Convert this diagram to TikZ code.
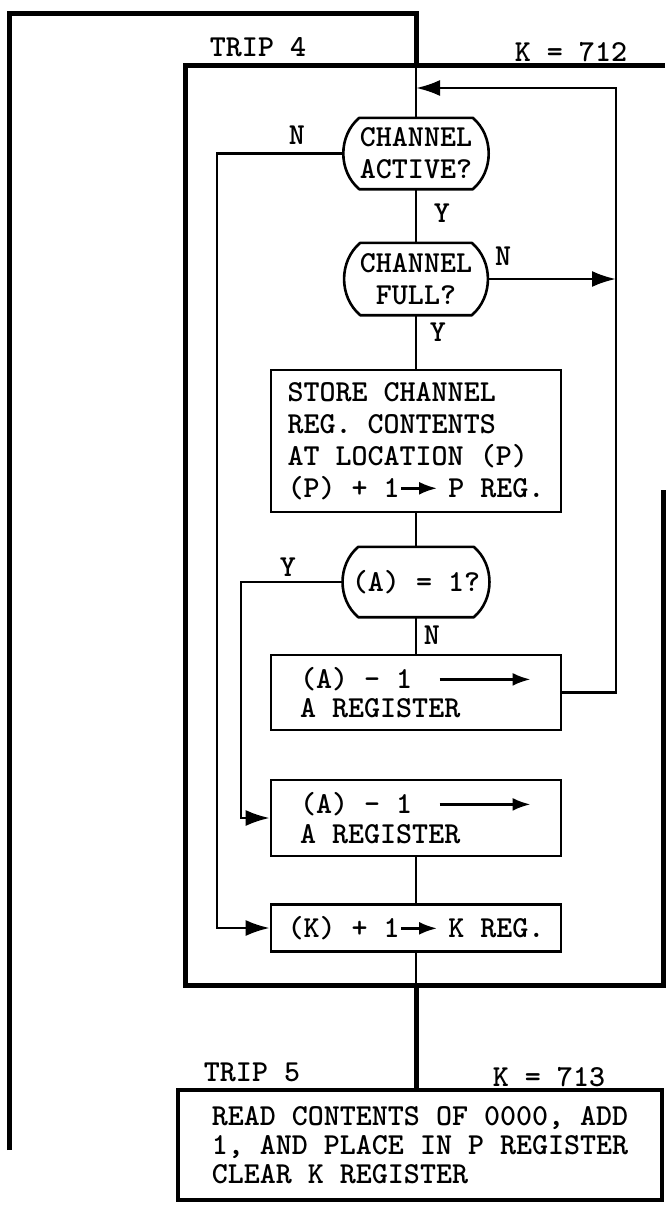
\documentclass[tikz,border=0pt]{standalone}
\usepackage{tikz}
\usetikzlibrary{arrows.meta,positioning,calc}
\tikzset{
  flow/.style={line width=2.6pt},
  frame/.style={line width=5pt},
  arr/.style={-{Latex[length=24pt,width=16pt]}},
  stepbox/.style={draw,line width=2.6pt,align=left,inner sep=0pt,minimum width=290pt},
  decide/.style={align=center,inner sep=0pt},
  lbl/.style={inner sep=0pt}
}
\newcommand\tarr[1]{\tikz[baseline=-9pt]\draw[line width=2.6pt,-{Latex[length=18pt,width=13pt]}] (0,0) -- (#1pt,0);}

\begin{document}
\begin{tikzpicture}[x=1pt,y=-1pt,every node/.style={font=\ttfamily\bfseries\fontsize{30.5}{32}\selectfont}]
  \useasboundingbox (0,0) rectangle (665,1207);
  % frames
  \draw[frame] (9,1150) -- (9,14) -- (416,14) -- (416,66);
  \draw[frame] (665,66) -- (185,66) -- (185,985) -- (663,985) -- (663,490);
  \node[lbl] (trip4) at (258,47) {TRIP 4};
  \node[lbl] (k712) at (571,52) {K = 712};
  \coordinate (in4) at (416,66);
  \coordinate (join) at (416,88);
  \coordinate (fb) at (616,88);
  \coordinate (nl) at (217,0);
  \coordinate (yl) at (241,0);
  \coordinate (out4) at (416,985);

  % steps
  \node[decide,minimum width=145pt,minimum height=71pt] (active) at (416,153.5) {CHANNEL\\ACTIVE?};
  \node[decide,minimum width=143pt,minimum height=72pt] (full) at (416,279) {CHANNEL\\FULL?};
  \node[stepbox,minimum height=142pt] (store) at (416,441)
    {STORE CHANNEL\\REG. CONTENTS\\AT LOCATION (P)\\(P) + 1\tarr{36}\hspace{10pt}P REG.};
  \node[decide,minimum width=147pt,minimum height=70pt] (aone) at (416,582) {(A) = 1?};
  \node[stepbox,minimum height=75pt,font=\ttfamily\bfseries\fontsize{30.5}{29}\selectfont] (asub) at (416,692.5)
    {(A) - 1\hspace{26pt}\tarr{91}\\A REGISTER};
  \node[stepbox,minimum height=76pt,font=\ttfamily\bfseries\fontsize{30.5}{30}\selectfont] (asubb) at (416,818)
    {(A) - 1\hspace{26pt}\tarr{91}\\A REGISTER};
  \node[stepbox,minimum height=47pt] (kreg) at (416,928)
    {(K) + 1\tarr{36}\hspace{10pt}K REG.};

  \foreach \d in {active,full,aone}
    \draw[flow] ([xshift=16pt]\d.north west) -- ([xshift=-16pt]\d.north east)
      to[bend left=50] ([xshift=-16pt]\d.south east) -- ([xshift=16pt]\d.south west)
      to[bend left=50] cycle;

  % trip 5
  \node[lbl] (trip5) at (252,1072) {TRIP 5};
  \node[lbl] (k713) at (549,1077) {K = 713};
  \node[draw,line width=4pt,align=left,inner sep=0pt,minimum width=484pt,minimum height=110pt,
    font=\ttfamily\bfseries\fontsize{30.5}{29}\selectfont] (read) at (420,1145)
    {READ CONTENTS OF 0000, ADD\\1, AND PLACE IN P REGISTER\\CLEAR K REGISTER};

  % connectors
  \draw[flow] (in4) -- (active.north);
  \draw[flow] (active.south) -- (full.north);
  \draw[flow] (full.south) -- (store.north);
  \draw[flow] (store.south) -- (aone.north);
  \draw[flow] (aone.south) -- (asub.north);
  \draw[flow] (asubb.south) -- (kreg.north);
  \draw[flow] (kreg.south) -- (out4);
  \draw[frame] (out4) -- (read.north -| out4);
  \draw[flow,arr] (asub.east) -| (fb) -- (join);
  \draw[flow,arr] (full.east) -- (full.east -| fb);
  \draw[flow,arr] (active.west) -- (active.west -| nl) |- (kreg.west);
  \draw[flow,arr] (aone.west) -- (aone.west -| yl) |- (asubb.west);

  \node[lbl] (n1) at (297,135) {N};
  \node[lbl] (y1) at (442,213) {Y};
  \node[lbl] (n2) at (503,256) {N};
  \node[lbl] (y2) at (438,332) {Y};
  \node[lbl] (y3) at (288,567) {Y};
  \node[lbl] (n3) at (432,635) {N};
\end{tikzpicture}
\end{document}
